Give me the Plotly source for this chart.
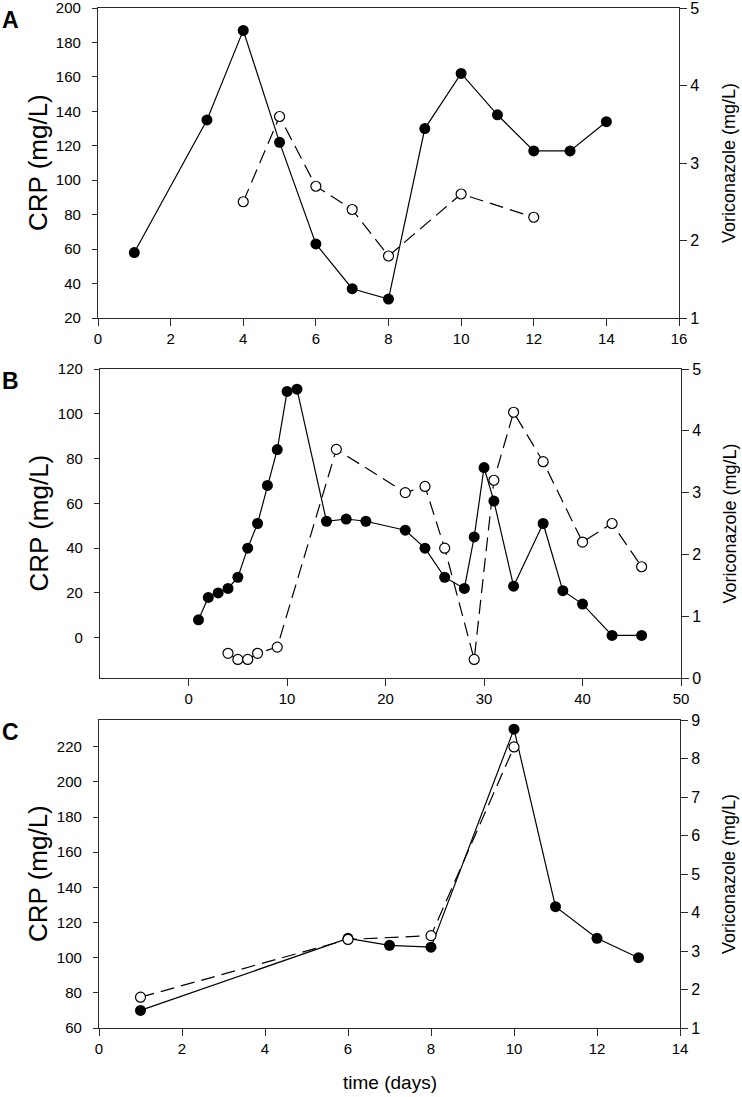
import plotly.graph_objects as go

W, H = 742, 1097

# Panel A
a_days_crp = [1, 3, 4, 5, 6, 7, 8, 9, 10, 11, 12, 13, 14]
a_crp = [58, 135, 187, 122, 63, 37, 31, 130, 162, 138, 117, 117, 134]
a_days_vori = [4, 5, 6, 7, 8, 10, 12]
a_vori = [2.5, 3.6, 2.7, 2.4, 1.8, 2.6, 2.3]

# Panel B
b_days_crp = [1, 2, 3, 4, 5, 6, 7, 8, 9, 10, 11, 14, 16, 18, 22, 24, 26, 28, 29, 30, 31, 33, 36, 38, 40, 43, 46]
b_crp = [8, 18, 20, 22, 27, 40, 51, 68, 84, 110, 111, 52, 53, 52, 48, 40, 27, 22, 45, 76, 61, 23, 51, 21, 15, 1, 1]
b_days_vori = [4, 5, 6, 7, 9, 15, 22, 24, 26, 29, 31, 33, 36, 40, 43, 46]
b_vori = [0.4, 0.3, 0.3, 0.4, 0.5, 3.7, 3.0, 3.1, 2.1, 0.3, 3.2, 4.3, 3.5, 2.2, 2.5, 1.8]

# Panel C
c_days_crp = [1, 6, 7, 8, 10, 11, 12, 13]
c_crp = [70, 111, 107, 106, 230, 129, 111, 100]
c_days_vori = [1, 6, 8, 10]
c_vori = [1.8, 3.3, 3.4, 8.3]

panel_labels = ["A", "B", "C"]
crp_title = "CRP (mg/L)"
vori_title = "Voriconazole (mg/L)"
x_title = "time (days)"

# pixel boxes of each panel: (left, right, top, bottom)
panels = [
    dict(box=(98, 679, 8, 318), xr=[0, 16], xt=list(range(0, 17, 2)),
         yr=[20, 200], yt=list(range(20, 201, 20)), y2r=[1, 5], y2t=[1, 2, 3, 4, 5],
         crp=(a_days_crp, a_crp), vori=(a_days_vori, a_vori)),
    dict(box=(100, 681, 369, 678), xr=[-9, 50], xt=list(range(0, 51, 10)),
         yr=[-18, 120], yt=list(range(0, 121, 20)), y2r=[0, 5], y2t=[0, 1, 2, 3, 4, 5],
         crp=(b_days_crp, b_crp), vori=(b_days_vori, b_vori)),
    dict(box=(99, 680, 720, 1028), xr=[0, 14], xt=list(range(0, 15, 2)),
         yr=[60, 235.2], yt=list(range(60, 221, 20)), y2r=[1, 9], y2t=list(range(1, 10)),
         crp=(c_days_crp, c_crp), vori=(c_days_vori, c_vori)),
]

AX = "#2b2b2b"
font = "Liberation Sans, Arial, sans-serif"
tickfont = dict(family=font, size=15, color="black")

fig = go.Figure()
layout = {}
annotations = []

for i, p in enumerate(panels):
    l, r, t, b = p["box"]
    xn = i + 1
    yl = 2 * i + 1
    yr = 2 * i + 2
    xs = "" if xn == 1 else str(xn)
    yls = "" if yl == 1 else str(yl)
    yrs = str(yr)

    fig.add_trace(go.Scatter(
        x=p["crp"][0], y=p["crp"][1], xaxis="x" + xs, yaxis="y" + yls,
        mode="lines+markers", line=dict(color="black", width=1.2),
        marker=dict(symbol="circle", size=11, color="black"),
        showlegend=False, cliponaxis=False))
    fig.add_trace(go.Scatter(
        x=p["vori"][0], y=p["vori"][1], xaxis="x" + xs, yaxis="y" + yrs,
        mode="lines+markers", line=dict(color="black", width=1.2, dash="14px,7px"),
        marker=dict(symbol="circle", size=10, color="white",
                    line=dict(color="black", width=1.2)),
        showlegend=False, cliponaxis=False))

    xdom = [l / W, r / W]
    ydom = [1 - b / H, 1 - t / H]

    layout["xaxis" + xs] = dict(
        domain=xdom, anchor="y" + yls, range=p["xr"], tickvals=p["xt"],
        showline=True, linecolor=AX, linewidth=1.2, mirror=True,
        ticks="outside", ticklen=7, tickcolor=AX, tickwidth=1.2,
        tickfont=tickfont, ticklabelstandoff=0, ticklabeloverflow="allow",
        showgrid=False, zeroline=False, automargin=False)
    layout["yaxis" + yls] = dict(
        domain=ydom, anchor="x" + xs, range=p["yr"], tickvals=p["yt"],
        showline=True, linecolor=AX, linewidth=1.2,
        ticks="outside", ticklen=5, tickcolor=AX, tickwidth=1.2,
        tickfont=tickfont, ticklabelstandoff=8, ticklabeloverflow="allow",
        showgrid=False, zeroline=False, automargin=False)
    layout["yaxis" + yrs] = dict(
        overlaying="y" + yls, side="right", anchor="x" + xs, range=p["y2r"], tickvals=p["y2t"],
        showline=True, linecolor=AX, linewidth=1.2,
        ticks="outside", ticklen=7, tickcolor=AX, tickwidth=1.2,
        tickfont=dict(family=font, size=16, color="black"), ticklabelstandoff=0,
        ticklabeloverflow="allow",
        showgrid=False, zeroline=False, automargin=False)

    cy = 1 - (t + b) / 2 / H
    annotations.append(dict(text="<b>" + panel_labels[i] + "</b>", x=0.0, y=1 - (t + 12) / H,
                            xref="paper", yref="paper", xanchor="left", yanchor="middle",
                            showarrow=False, font=dict(family=font, size=23, color="black")))
    annotations.append(dict(text=crp_title, x=38 / W, y=cy, xref="paper", yref="paper",
                            xanchor="center", yanchor="middle", textangle=-90, showarrow=False,
                            font=dict(family=font, size=26, color="black")))
    annotations.append(dict(text=vori_title, x=729 / W, y=cy, xref="paper", yref="paper",
                            xanchor="center", yanchor="middle", textangle=-90, showarrow=False,
                            font=dict(family=font, size=18, color="black")))

annotations.append(dict(text=x_title, x=390 / W, y=1 - 1082 / H, xref="paper", yref="paper",
                        xanchor="center", yanchor="middle", showarrow=False,
                        font=dict(family=font, size=19, color="black")))

fig.update_layout(
    width=W, height=H,
    margin=dict(l=0, r=0, t=0, b=0),
    paper_bgcolor="white", plot_bgcolor="white",
    annotations=annotations,
    **layout)

# the page's default body margin would shift and crop the figure
fig.write_html("out.html", config={"displayModeBar": False},
               post_script="document.body.style.margin='0';document.body.style.overflow='hidden';")
